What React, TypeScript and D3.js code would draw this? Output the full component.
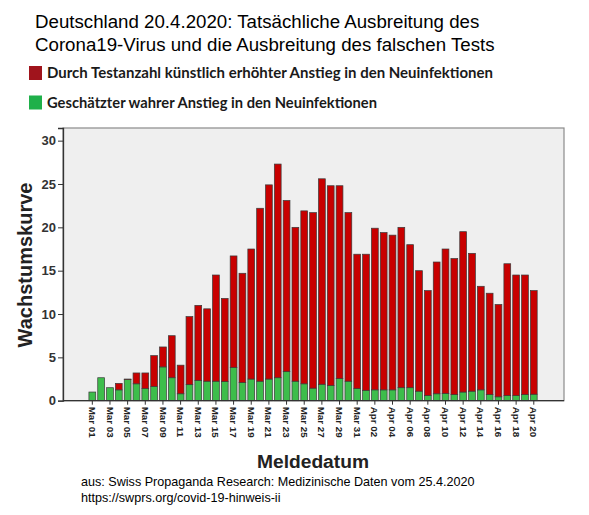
import { useEffect, useRef } from 'react';
import * as d3 from 'd3';

// Meldedatum (every day, Mar 01 - Apr 20)
const days = [
  'Mar 01', 'Mar 02', 'Mar 03', 'Mar 04', 'Mar 05', 'Mar 06', 'Mar 07', 'Mar 08', 'Mar 09', 'Mar 10',
  'Mar 11', 'Mar 12', 'Mar 13', 'Mar 14', 'Mar 15', 'Mar 16', 'Mar 17', 'Mar 18', 'Mar 19', 'Mar 20',
  'Mar 21', 'Mar 22', 'Mar 23', 'Mar 24', 'Mar 25', 'Mar 26', 'Mar 27', 'Mar 28', 'Mar 29', 'Mar 30',
  'Mar 31', 'Apr 01', 'Apr 02', 'Apr 03', 'Apr 04', 'Apr 05', 'Apr 06', 'Apr 07', 'Apr 08', 'Apr 09',
  'Apr 10', 'Apr 11', 'Apr 12', 'Apr 13', 'Apr 14', 'Apr 15', 'Apr 16', 'Apr 17', 'Apr 18', 'Apr 19',
  'Apr 20',
];

// bar totals (Wachstumskurve)
const totalValues = [
  1.0, 2.65, 1.5, 2.0, 2.5, 3.2, 3.2, 5.2, 6.2, 7.5,
  4.1, 9.7, 11.0, 10.6, 14.5, 11.8, 16.7, 14.7, 17.5, 22.2,
  24.9, 27.3, 23.1, 20.0, 21.9, 21.7, 25.6, 24.8, 24.8, 21.7,
  16.9, 16.9, 19.9, 19.4, 19.1, 20.0, 18.0, 15.0, 12.7, 16.0,
  17.5, 16.4, 19.5, 17.0, 13.2, 12.4, 11.1, 15.8, 14.5, 14.5,
  12.7,
];

// green part: estimated true rise
const trueValues = [
  1.0, 2.65, 1.5, 1.25, 2.45, 1.95, 1.4, 1.65, 3.9, 2.65,
  0.8, 1.85, 2.35, 2.25, 2.25, 2.2, 3.85, 2.1, 2.5, 2.25,
  2.5, 2.65, 3.35, 2.25, 1.95, 1.45, 1.9, 1.75, 2.55, 2.25,
  1.4, 1.2, 1.25, 1.25, 1.25, 1.5, 1.5, 1.1, 0.6, 0.8,
  0.85, 0.7, 1.0, 1.1, 1.25, 0.7, 0.45, 0.6, 0.6, 0.7,
  0.75,
];

const yTicks = [0, 5, 10, 15, 20, 25, 30];

const titleLines = [
  'Deutschland 20.4.2020: Tatsächliche Ausbreitung des',
  'Corona19-Virus und die Ausbreitung des falschen Tests',
];
const legendItems = [
  { label: 'Durch Testanzahl künstlich erhöhter Anstieg in den Neuinfektionen', color: '#a0141c', width: 446 },
  { label: 'Geschätzter wahrer Anstieg in den Neuinfektionen', color: '#1fb04a', width: 330 },
];
const sourceLines = [
  'aus: Swiss Propaganda Research: Medizinische Daten vom 25.4.2020',
  'https://swprs.org/covid-19-hinweis-ii',
];

const RED = '#c80000';
const GREEN = '#3dbd4b';

export default function App() {
  const svgRef = useRef<SVGSVGElement>(null);
  const width = 589;
  const height = 515;

  useEffect(() => {
    const svg = d3.select(svgRef.current);
    svg.selectAll('*').remove();

    const plot = { left: 63, right: 564, top: 128, bottom: 400.7 };

    svg.append('rect').attr('width', width).attr('height', height).attr('fill', '#fff');

    // Title
    svg.append('g')
      .selectAll('text')
      .data(titleLines)
      .enter().append('text')
      .attr('x', 35)
      .attr('y', (d, i) => 27.5 + i * 23)
      .style('font-family', '"Liberation Sans", Arial, sans-serif')
      .style('font-size', '18.7px')
      .style('fill', '#000')
      .text(d => d);

    // Legend
    const legend = svg.append('g');
    legendItems.forEach((item, i) => {
      const y = 66 + i * 29.5;
      legend.append('rect')
        .attr('x', 29).attr('y', y).attr('width', 13).attr('height', 14)
        .attr('fill', item.color);
      legend.append('text')
        .attr('x', 47).attr('y', y + 12)
        .attr('textLength', item.width)
        .attr('lengthAdjust', 'spacingAndGlyphs')
        .style('font-family', 'Lato, "Open Sans", sans-serif')
        .style('font-weight', 'bold')
        .style('font-size', '16px')
        .style('fill', '#1a1a1a')
        .text(item.label);
    });

    // Scales
    const xScale = d3.scaleBand()
      .domain(days)
      .range([87.9, 538.2])
      .paddingInner(0.23)
      .paddingOuter(0.115);

    const yScale = d3.scaleLinear()
      .domain([0, 31.46])
      .range([plot.bottom, plot.top]);

    // Plot background
    svg.append('rect')
      .attr('x', plot.left).attr('y', plot.top)
      .attr('width', plot.right - plot.left).attr('height', plot.bottom - plot.top)
      .attr('fill', '#efefef')
      .attr('stroke', '#8a8a8a')
      .attr('stroke-width', 1.2);

    // Stacked bars
    const rows = days.map((d, i) => ({ day: d, green: trueValues[i], red: Math.max(0, totalValues[i] - trueValues[i]) }));
    const stacked = d3.stack<any>().keys(['green', 'red'])(rows);
    const colors: Record<string, string> = { green: GREEN, red: RED };

    svg.append('g')
      .selectAll('g')
      .data(stacked)
      .enter().append('g')
      .attr('fill', s => colors[s.key])
      .selectAll('rect')
      .data(s => s.filter(p => p[1] - p[0] > 0.01))
      .enter().append('rect')
      .attr('x', p => xScale(p.data.day)!)
      .attr('width', xScale.bandwidth())
      .attr('y', p => yScale(p[1]))
      .attr('height', p => yScale(p[0]) - yScale(p[1]))
      .attr('stroke', '#3a3a3a')
      .attr('stroke-width', 0.7);

    // Y axis
    const yAxis = svg.append('g')
      .attr('transform', `translate(${plot.left},0)`)
      .call(d3.axisLeft(yScale).tickValues(yTicks).tickSize(5).tickPadding(2).tickFormat(d3.format('d')));
    yAxis.select('.domain').attr('stroke', '#333').attr('stroke-width', 1.3);
    yAxis.selectAll('.tick line').attr('stroke', '#333');
    yAxis.selectAll('text')
      .style('font-family', '"Liberation Sans", Arial, sans-serif')
      .style('font-weight', 'bold')
      .style('font-size', '13px')
      .style('fill', '#333');

    // X axis (every other day labelled)
    const xAxis = svg.append('g')
      .attr('transform', `translate(0,${plot.bottom})`)
      .call(d3.axisBottom(xScale).tickValues(days.filter((d, i) => i % 2 === 0)).tickSize(4).tickSizeOuter(0));
    xAxis.select('.domain').attr('stroke', '#333').attr('stroke-width', 1.3).attr('d', `M${plot.left},0H${plot.right}`);
    xAxis.selectAll('.tick line').attr('stroke', '#333');
    xAxis.selectAll('text')
      .attr('transform', 'rotate(90)')
      .attr('x', 6)
      .attr('y', 0)
      .attr('dy', '0.35em')
      .attr('text-anchor', 'start')
      .style('font-family', '"Liberation Sans", Arial, sans-serif')
      .style('font-weight', 'bold')
      .style('font-size', '9.8px')
      .style('fill', '#222');

    // Axis titles
    svg.append('text')
      .attr('transform', 'translate(32,265) rotate(-90)')
      .attr('text-anchor', 'middle')
      .style('font-family', '"Liberation Sans", Arial, sans-serif')
      .style('font-weight', 'bold')
      .style('font-size', '20px')
      .style('fill', '#222')
      .text('Wachstumskurve');

    svg.append('text')
      .attr('x', 313)
      .attr('y', 468)
      .attr('text-anchor', 'middle')
      .style('font-family', '"Liberation Sans", Arial, sans-serif')
      .style('font-weight', 'bold')
      .style('font-size', '19.2px')
      .style('fill', '#222')
      .text('Meldedatum');

    // Source
    svg.append('g')
      .selectAll('text')
      .data(sourceLines)
      .enter().append('text')
      .attr('x', 81)
      .attr('y', (d, i) => 486 + i * 15.5)
      .style('font-family', '"Liberation Sans", Arial, sans-serif')
      .style('font-size', '12.6px')
      .style('fill', '#000')
      .text(d => d);
  }, []);

  return (
    <svg
      ref={svgRef}
      width={width}
      height={height}
      style={{ position: 'absolute', left: 0, top: 0 }}
    />
  );
}
